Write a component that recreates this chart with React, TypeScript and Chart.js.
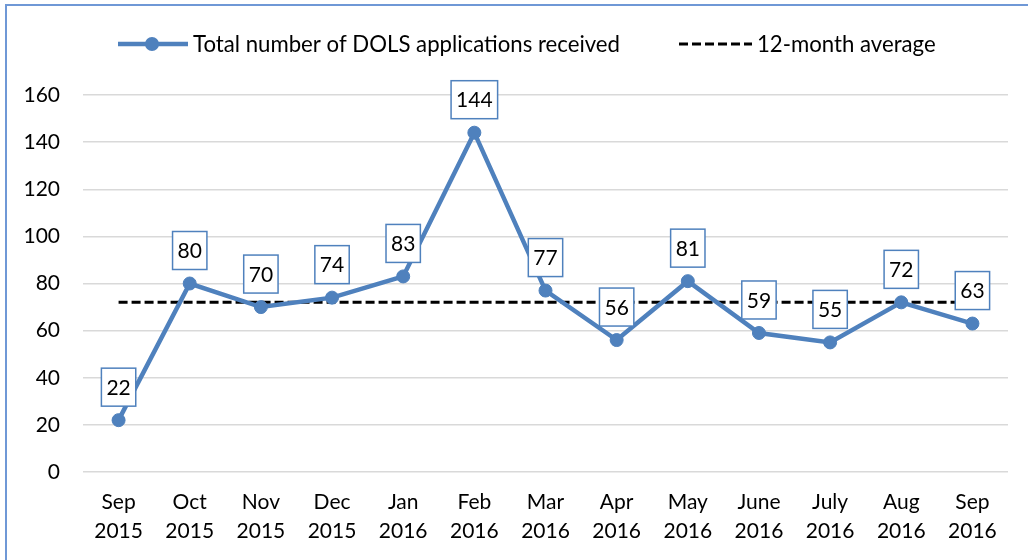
import React, { useEffect, useRef } from "react";
import { Chart, registerables } from "chart.js";

Chart.register(...registerables);

const categories: string[][] = [
  ["Sep", "2015"], ["Oct", "2015"], ["Nov", "2015"], ["Dec", "2015"],
  ["Jan", "2016"], ["Feb", "2016"], ["Mar", "2016"], ["Apr", "2016"],
  ["May", "2016"], ["June", "2016"], ["July", "2016"], ["Aug", "2016"],
  ["Sep", "2016"],
];
const applications = [22, 80, 70, 74, 83, 144, 77, 56, 81, 59, 55, 72, 63];
const twelveMonthAverage = [72, 72, 72, 72, 72, 72, 72, 72, 72, 72, 72, 72, 72];
const seriesNames = ["Total number of DOLS applications received", "12-month average"];
const yMin = 0;
const yMax = 160;
const yStep = 20;

const FONT = "Lato";
const FONT_SIZE = 21;
const LEGEND_FONT_SIZE = 22.2;
const BLUE = "#4F81BD";

const decorPlugin = {
  id: "decor",
  beforeDraw(chart: any) {
    const ctx = chart.ctx as CanvasRenderingContext2D;
    ctx.save();
    ctx.fillStyle = "#ffffff";
    ctx.fillRect(0, 0, chart.width, chart.height);
    // outer frame (left and top)
    ctx.strokeStyle = "#6f98d6";
    ctx.lineWidth = 2;
    ctx.beginPath();
    ctx.moveTo(6, chart.height);
    ctx.lineTo(6, 5);
    ctx.lineTo(chart.width, 5);
    ctx.stroke();

    // legend
    const ly = 44;
    ctx.font = `${LEGEND_FONT_SIZE}px ${FONT}`;
    ctx.textBaseline = "middle";
    ctx.textAlign = "left";
    ctx.fillStyle = "#000";
    ctx.strokeStyle = BLUE;
    ctx.lineWidth = 4.5;
    ctx.beginPath();
    ctx.moveTo(118, ly);
    ctx.lineTo(188, ly);
    ctx.stroke();
    ctx.fillStyle = BLUE;
    ctx.beginPath();
    ctx.arc(152, ly, 7, 0, Math.PI * 2);
    ctx.fill();
    ctx.fillStyle = "#000";
    ctx.fillText(seriesNames[0], 193, ly + 1);

    ctx.strokeStyle = "#000";
    ctx.lineWidth = 3;
    ctx.setLineDash([9, 4]);
    ctx.beginPath();
    ctx.moveTo(679, ly);
    ctx.lineTo(752, ly);
    ctx.stroke();
    ctx.setLineDash([]);
    ctx.fillText(seriesNames[1], 757, ly + 1);
    ctx.restore();
  },
  afterDatasetsDraw(chart: any) {
    const ctx = chart.ctx as CanvasRenderingContext2D;
    const meta = chart.getDatasetMeta(0);
    const data = chart.data.datasets[0].data as number[];
    ctx.save();
    ctx.font = `${FONT_SIZE}px ${FONT}`;
    ctx.textBaseline = "middle";
    ctx.textAlign = "center";
    meta.data.forEach((pt: any, i: number) => {
      const text = String(data[i]);
      const w = ctx.measureText(text).width + 10;
      const h = 38;
      const x = pt.x - w / 2;
      const bottom = pt.y - 14;
      const y = bottom - h;
      ctx.fillStyle = "#ffffff";
      ctx.fillRect(x, y, w, h);
      ctx.strokeStyle = BLUE;
      ctx.lineWidth = 1.5;
      ctx.strokeRect(x, y, w, h);
      ctx.fillStyle = "#000";
      ctx.fillText(text, pt.x, y + h / 2 + 1);
    });
    ctx.restore();
  },
};

export default function App() {
  const ref = useRef<HTMLCanvasElement | null>(null);

  useEffect(() => {
    if (!ref.current) return;
    const chart = new Chart(ref.current, {
      type: "line",
      data: {
        labels: categories,
        datasets: [
          {
            label: seriesNames[0],
            data: applications,
            borderColor: BLUE,
            backgroundColor: BLUE,
            borderWidth: 4.5,
            pointRadius: 6.5,
            pointBorderWidth: 1,
            pointBackgroundColor: BLUE,
            pointBorderColor: BLUE,
            tension: 0,
          },
          {
            label: seriesNames[1],
            data: twelveMonthAverage,
            borderColor: "#000000",
            borderWidth: 3,
            borderDash: [9, 4],
            pointRadius: 0,
            tension: 0,
          },
        ],
      },
      options: {
        responsive: false,
        animation: false,
        layout: { padding: { top: 95, right: 20, bottom: 0, left: 0 } },
        plugins: {
          legend: { display: false },
          tooltip: { enabled: false },
        },
        scales: {
          x: {
            offset: true,
            grid: { display: false, drawTicks: false },
            border: { display: false },
            ticks: {
              color: "#000",
              font: { family: FONT, size: FONT_SIZE, lineHeight: 29 / 21 },
              padding: 16,
              maxRotation: 0,
              autoSkip: false,
            },
            afterFit: (scale: any) => {
              scale.height = 88;
            },
          },
          y: {
            min: yMin,
            max: yMax,
            grid: { color: "#d9d9d9", lineWidth: 1.5, drawTicks: false },
            border: { display: false },
            ticks: {
              stepSize: yStep,
              color: "#000",
              font: { family: FONT, size: FONT_SIZE },
              padding: 23,
            },
            afterFit: (scale: any) => {
              scale.width = 83;
            },
          },
        },
      },
      plugins: [decorPlugin],
    });
    return () => chart.destroy();
  }, []);

  return (
    <div style={{ position: "absolute", left: 0, top: 0, width: 1028, height: 560 }}>
      <canvas ref={ref} width={1028} height={560} style={{ display: "block", width: 1028, height: 560 }} />
    </div>
  );
}
